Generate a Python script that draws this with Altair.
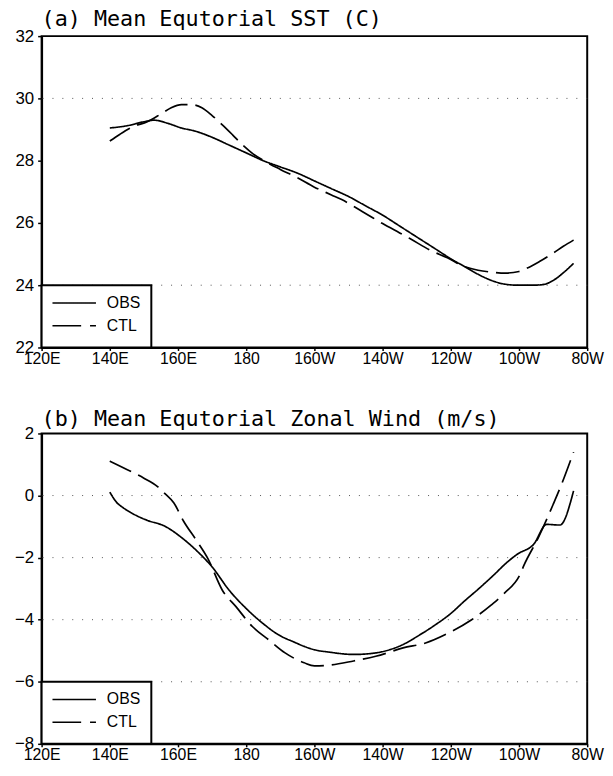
import altair as alt
import pandas as pd

# ---------------- data ----------------
lon_ticks = [120, 140, 160, 180, 200, 220, 240, 260, 280]
lon_tick_labels = ["120E", "140E", "160E", "180", "160W", "140W", "120W", "100W", "80W"]
series_names = ["OBS", "CTL"]

sst_obs_lon = [140, 145, 150, 153, 157, 161, 165, 170, 175, 180, 185, 190, 195, 200, 205, 210,
               215, 220, 225, 230, 235, 240, 244, 248, 252, 256, 260, 264, 267, 270, 273, 276]
sst_obs = [29.05, 29.12, 29.25, 29.3, 29.2, 29.05, 28.95, 28.75, 28.5, 28.25, 28.0, 27.8, 27.6,
           27.35, 27.1, 26.85, 26.55, 26.25, 25.9, 25.55, 25.2, 24.85, 24.6, 24.35, 24.15, 24.03,
           24.0, 24.0, 24.02, 24.15, 24.4, 24.7]

sst_ctl_lon = [140, 143, 147, 151, 155, 158, 161, 164, 167, 170, 173, 176, 179, 182, 186, 190,
               195, 200, 205, 208, 214, 220, 225, 228, 234, 239, 244, 248, 252, 256, 260, 263,
               266, 270, 273, 276]
sst_ctl = [28.63, 28.85, 29.1, 29.25, 29.5, 29.7, 29.8, 29.8, 29.7, 29.45, 29.15, 28.83, 28.5,
           28.22, 27.95, 27.72, 27.45, 27.15, 26.9, 26.75, 26.37, 25.98, 25.68, 25.5, 25.12,
           24.88, 24.6, 24.48, 24.42, 24.39, 24.44, 24.58, 24.76, 25.03, 25.25, 25.45]

wind_obs_lon = [140, 142, 144, 147, 151, 156, 161, 165.5, 170, 175, 180, 185, 189.5, 194, 197,
                200, 204, 211.5, 218, 222, 226, 230, 235, 240, 244, 248, 252.7, 256, 259.5,
                264.3, 268.1, 272, 276]
wind_obs = [0.11, -0.22, -0.4, -0.6, -0.8, -0.98, -1.35, -1.78, -2.3, -3.05, -3.64, -4.13, -4.49,
            -4.72, -4.86, -4.97, -5.04, -5.12, -5.07, -4.97, -4.8, -4.55, -4.2, -3.8, -3.4, -3.02,
            -2.55, -2.2, -1.89, -1.57, -0.93, -0.95, 0.15]

wind_ctl_lon = [140, 146.3, 150, 154, 156, 158.8, 161.6, 165.5, 168.8, 173, 177, 181.8, 186.6,
                191.4, 197, 200, 204, 211.5, 218, 226, 232.6, 239.3, 246, 251.8, 255.6, 260.4,
                261.4, 265.7, 270, 272.4, 276]
wind_ctl = [1.11, 0.77, 0.56, 0.29, 0.08, -0.24, -0.82, -1.46, -2.04, -3.05, -3.58, -4.22, -4.65,
            -5.07, -5.39, -5.49, -5.47, -5.33, -5.18, -4.91, -4.75, -4.43, -4.01, -3.53, -3.16,
            -2.52, -2.26, -1.35, -0.29, 0.34, 1.4]

sst_ticks = [22, 24, 26, 28, 30, 32]
wind_ticks = [-8, -6, -4, -2, 0, 2]
sst_grid = [30, 24]
wind_grid = [0, -2, -4, -6]

titles = ["(a) Mean Equtorial SST (C)", "(b) Mean Equtorial Zonal Wind (m/s)"]

# ---------------- styling ----------------
W = 552
LABEL_FONT = "Liberation Sans"
TITLE_FONT = "DejaVu Sans Mono"
YFS = 17
XFS = 16

label_expr = ""
for v, t in zip(lon_ticks, lon_tick_labels):
    label_expr += f"datum.value == {v} ? '{t}' : "
label_expr += "''"


def panel(title, obs_lon, obs, ctl_lon, ctl, ydomain, yticks, grid, height, tgap):
    df = pd.concat([
        pd.DataFrame({"lon": obs_lon, "val": obs, "series": series_names[0]}),
        pd.DataFrame({"lon": ctl_lon, "val": ctl, "series": series_names[1]}),
    ])
    xs = alt.Scale(domain=[120, 280], nice=False, zero=False)
    ys = alt.Scale(domain=ydomain, nice=False, zero=False)
    x_enc = alt.X("lon:Q", scale=xs,
                  axis=alt.Axis(values=lon_ticks, labelExpr=label_expr, title=None, grid=False,
                                tickSize=3, labelPadding=0, labelFlush=False,
                                labelFont=LABEL_FONT, labelFontSize=XFS, labelColor="black",
                                domainColor="black", domainWidth=2, tickColor="black",
                                tickWidth=1.5))
    y_enc = alt.Y("val:Q", scale=ys,
                  axis=alt.Axis(values=yticks, title=None, grid=False, tickSize=4,
                                labelPadding=4, labelFont=LABEL_FONT, labelFontSize=YFS,
                                labelColor="black", domainColor="black", domainWidth=2,
                                tickColor="black", tickWidth=1.5))

    lines = alt.Chart(df).mark_line(color="black", strokeWidth=1.7, interpolate="monotone").encode(
        x=x_enc, y=y_enc,
        strokeDash=alt.StrokeDash("series:N",
                                  scale=alt.Scale(domain=series_names, range=[[1, 0], [24, 8]]),
                                  legend=None),
        detail="series:N",
    )
    gridl = alt.Chart(pd.DataFrame({"val": grid})).mark_rule(
        color="#555", strokeWidth=1, strokeDash=[1, 9]).encode(y=y_enc)

    box_top = (ydomain[1] - (ydomain[0] + 2)) / (ydomain[1] - ydomain[0]) * height
    box = alt.Chart(pd.DataFrame({"series": ["box"]})).mark_rect(
        fill="white", stroke="black", strokeWidth=2).encode(
        x=alt.value(0), x2=alt.value(111), y=alt.value(box_top), y2=alt.value(height))

    ttl = alt.Chart(pd.DataFrame({"t": [title]})).mark_text(
        align="left", baseline="alphabetic", font=TITLE_FONT, fontSize=22, color="black").encode(
        x=alt.value(0), y=alt.value(-tgap), text="t:N")

    layers = [gridl, lines, box, ttl]
    dashes = [[1, 0], [29, 9, 6, 100]]
    for i, name in enumerate(series_names):
        yy = box_top + 18 + i * 23
        d = pd.DataFrame({"series": [name]})
        layers.append(alt.Chart(d).mark_rule(color="black", strokeWidth=1.5,
                                             strokeDash=dashes[i]).encode(
            x=alt.value(11), x2=alt.value(55), y=alt.value(yy)))
        layers.append(alt.Chart(d).mark_text(align="left", baseline="middle", fontSize=16,
                                             font=LABEL_FONT, color="black").encode(
            x=alt.value(66), y=alt.value(yy), text="series:N"))

    return alt.layer(*layers).properties(width=W, height=height)


pa = panel(titles[0], sst_obs_lon, sst_obs, sst_ctl_lon, sst_ctl, [22, 32], sst_ticks, sst_grid, 315, 10)
pb = panel(titles[1], wind_obs_lon, wind_obs, wind_ctl_lon, wind_ctl, [-8, 2], wind_ticks, wind_grid, 314, 8)

chart = alt.vconcat(pa, pb, spacing=40).properties(
    padding={"left": 5, "top": -5, "right": 0, "bottom": 0},
    background="white",
).configure_view(
    stroke="black", strokeWidth=2
)

chart.save("out.html", embed_options={"renderer": "svg", "actions": False})
